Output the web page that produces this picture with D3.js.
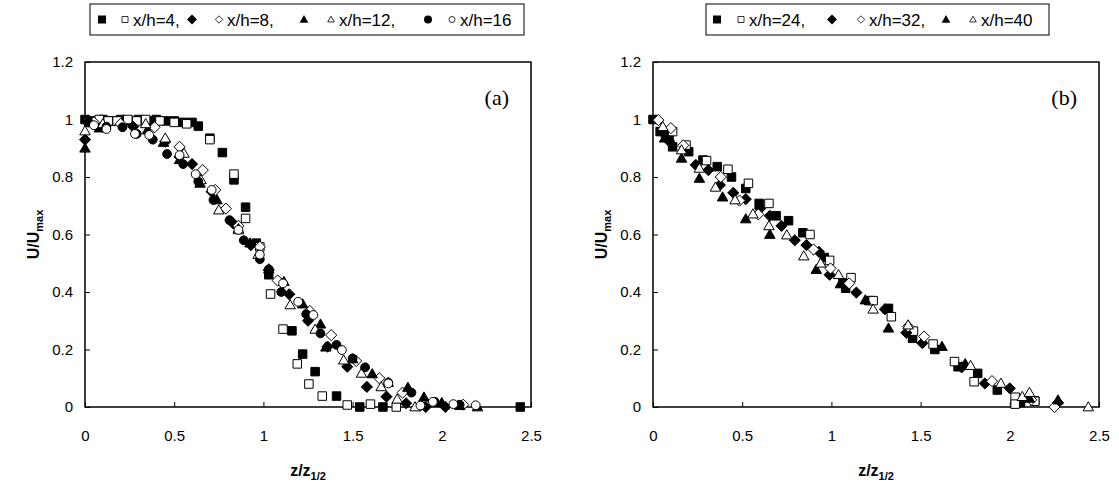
<!DOCTYPE html>
<html>
<head>
<meta charset="utf-8">
<script src="https://cdn.jsdelivr.net/npm/d3@7"></script>
<style>
  body { margin: 0; background: #fff; }
  svg { display: block; font-family: "Liberation Sans", Arial, sans-serif; }
</style>
</head>
<body>
<svg id="chart" width="1119" height="491"></svg>
<script>
// tick values shared by both panels
const xTicks = [0, 0.5, 1, 1.5, 2, 2.5];
const yTicks = [0, 0.2, 0.4, 0.6, 0.8, 1, 1.2];

// panel (a) : [z/z1/2, U/Umax]
const a4Filled = [[0,1.0],[0.05,0.995],[0.1,1.0],[0.15,0.995],[0.2,1.0],[0.25,0.995],[0.3,1.0],[0.35,0.995],[0.4,1.0],[0.45,0.995],[0.5,0.995],[0.55,0.99],[0.6,0.99],[0.635,0.977],[0.70,0.935],[0.77,0.885],[0.835,0.79],[0.90,0.695],[0.96,0.57],[1.03,0.46],[1.16,0.265],[1.22,0.184],[1.29,0.123],[1.41,0.038],[1.54,0],[1.67,0],[2.44,0]];
const a4Open = [[0.02,0.99],[0.08,1.0],[0.13,0.995],[0.18,0.995],[0.24,1.0],[0.29,0.995],[0.34,1.0],[0.42,0.995],[0.5,0.99],[0.57,0.985],[0.70,0.93],[0.835,0.81],[0.90,0.656],[0.98,0.557],[1.04,0.393],[1.11,0.271],[1.19,0.15],[1.255,0.08],[1.33,0.038],[1.47,0.007],[1.60,0.01],[1.745,0]];
const a8Filled = [[0,0.93],[0.1,0.975],[0.27,0.975],[0.45,0.923],[0.53,0.87],[0.6,0.845],[0.71,0.749],[0.83,0.639],[0.93,0.563],[1.03,0.477],[1.145,0.392],[1.25,0.30],[1.36,0.21],[1.47,0.14],[1.58,0.07],[1.69,0.036],[1.80,0.013],[1.91,0],[2.02,0]];
const a8Open = [[0.05,0.99],[0.2,0.985],[0.39,0.973],[0.53,0.905],[0.66,0.824],[0.73,0.755],[0.79,0.69],[0.86,0.63],[0.98,0.557],[1.08,0.44],[1.26,0.334],[1.38,0.25],[1.52,0.16],[1.65,0.10],[1.78,0.05],[1.88,0.005],[2.12,0.008]];
const a12Filled = [[0,0.90],[0.08,0.97],[0.35,0.963],[0.44,0.92],[0.53,0.86],[0.645,0.778],[0.74,0.72],[0.86,0.62],[0.925,0.57],[1.03,0.48],[1.115,0.436],[1.22,0.358],[1.32,0.288],[1.35,0.208],[1.50,0.167],[1.61,0.115],[1.70,0.085],[1.81,0.068],[1.90,0.034],[2.0,0.015],[2.1,0.005],[2.2,0]];
const a12Open = [[0,0.96],[0.1,0.985],[0.34,0.985],[0.45,0.935],[0.555,0.882],[0.65,0.79],[0.75,0.685],[0.86,0.616],[0.97,0.53],[1.15,0.355],[1.29,0.27],[1.45,0.163],[1.55,0.117],[1.66,0.07],[1.75,0.027],[1.85,0]];
const a16Filled = [[0.02,0.99],[0.12,0.975],[0.21,0.973],[0.29,0.95],[0.38,0.93],[0.46,0.88],[0.55,0.845],[0.635,0.784],[0.72,0.72],[0.81,0.65],[0.89,0.58],[0.98,0.514],[1.03,0.479],[1.10,0.40],[1.24,0.323],[1.32,0.256],[1.41,0.216],[1.50,0.169],[1.57,0.138],[1.70,0.085],[1.83,0.05],[1.96,0.018],[2.1,0.008]];
const a16Open = [[0.05,0.98],[0.12,0.967],[0.28,0.95],[0.36,0.946],[0.53,0.876],[0.62,0.81],[0.71,0.755],[0.86,0.616],[0.98,0.53],[1.11,0.43],[1.195,0.366],[1.28,0.32],[1.44,0.198],[1.70,0.082],[1.88,0.005],[1.95,0.018],[2.065,0.01],[2.19,0.006]];

// panel (b)
const b24Filled = [[0,1.0],[0.04,0.958],[0.07,0.95],[0.09,0.935],[0.11,0.905],[0.20,0.888],[0.28,0.859],[0.36,0.836],[0.44,0.80],[0.52,0.76],[0.595,0.708],[0.69,0.665],[0.76,0.648],[0.84,0.606],[0.96,0.52],[1.065,0.432],[1.08,0.413],[1.21,0.37],[1.32,0.343],[1.455,0.239],[1.58,0.2],[1.71,0.14],[1.82,0.117],[1.93,0.059],[2.06,0.015],[2.14,0.021]];
const b24Open = [[0.11,0.958],[0.185,0.911],[0.30,0.857],[0.42,0.827],[0.535,0.778],[0.65,0.708],[0.88,0.60],[0.99,0.51],[1.11,0.45],[1.234,0.37],[1.336,0.314],[1.46,0.264],[1.57,0.219],[1.69,0.158],[1.80,0.088],[2.03,0.034],[2.03,0.01],[2.14,0.02]];
const b32Filled = [[0.09,0.925],[0.24,0.842],[0.31,0.824],[0.375,0.772],[0.45,0.745],[0.52,0.723],[0.60,0.69],[0.655,0.665],[0.72,0.63],[0.795,0.58],[0.86,0.563],[0.93,0.54],[0.99,0.46],[1.14,0.398],[1.30,0.34],[1.42,0.258],[1.51,0.222],[1.73,0.138],[1.86,0.082],[2.0,0.065],[2.27,0.015]];
const b32Open = [[0.03,0.998],[0.10,0.97],[0.17,0.91],[0.38,0.80],[0.485,0.718],[0.59,0.67],[0.90,0.548],[0.995,0.482],[1.10,0.43],[1.43,0.28],[1.52,0.245],[1.90,0.09],[2.12,0.025],[2.25,0.0]];
const b40Filled = [[0.065,0.935],[0.16,0.865],[0.26,0.795],[0.39,0.73],[0.52,0.654],[0.655,0.60],[0.915,0.478],[1.05,0.428],[1.19,0.372],[1.32,0.274],[1.62,0.21],[1.75,0.15],[2.11,0.03],[2.27,0.024]];
const b40Open = [[0.055,0.975],[0.16,0.894],[0.26,0.83],[0.35,0.764],[0.46,0.72],[0.56,0.671],[0.65,0.63],[0.75,0.598],[0.845,0.525],[0.94,0.50],[1.04,0.46],[1.234,0.34],[1.43,0.285],[1.78,0.144],[1.95,0.082],[2.07,0.036],[2.11,0.05],[2.44,0.0]];

const aLabels = ["x/h=4,", "x/h=8,", "x/h=12,", "x/h=16"];
const bLabels = ["x/h=24,", "x/h=32,", "x/h=40"];

const svg = d3.select("#chart");

// marker path, centred on 0,0
function markerPath(shape, s) {
    const p = d3.path();
    if (shape == "square") {
        p.rect(-s / 2, -s / 2, s, s);
    } else if (shape == "diamond") {
        const h = s * 0.62;
        p.moveTo(0, -h); p.lineTo(h, 0); p.lineTo(0, h); p.lineTo(-h, 0); p.closePath();
    } else if (shape == "triangle") {
        const h = s * 0.9;
        p.moveTo(0, -h * 0.62); p.lineTo(s * 0.55, h * 0.45); p.lineTo(-s * 0.55, h * 0.45); p.closePath();
    } else {
        p.arc(0, 0, s / 2, 0, 2 * Math.PI);
    }
    return p.toString();
}

function drawPanel(cfg) {
    const x = d3.scaleLinear().domain([0, 2.5]).range([cfg.left, cfg.left + 446]);
    const y = d3.scaleLinear().domain([0, 1.2]).range([407, 62]);
    const g = svg.append("g");

    // ticks inside the frame
    g.append("g")
        .attr("transform", "translate(0,407)")
        .call(d3.axisBottom(x).tickValues(xTicks).tickSizeInner(-5).tickSizeOuter(0).tickFormat(d3.format("")))
        .call(ax => ax.select(".domain").remove())
        .call(ax => ax.selectAll("text").attr("dy", 0).attr("y", 34).style("font-size", "15px").attr("fill", "#000"));
    g.append("g")
        .attr("transform", `translate(${cfg.left},0)`)
        .call(d3.axisLeft(y).tickValues(yTicks).tickSizeInner(-5).tickSizeOuter(0).tickFormat(d3.format("")))
        .call(ax => ax.select(".domain").remove())
        .call(ax => ax.selectAll("text").attr("x", -12).style("font-size", "15px").attr("fill", "#000"));

    g.append("rect")
        .attr("x", x(0)).attr("y", y(1.2))
        .attr("width", x(2.5) - x(0)).attr("height", y(0) - y(1.2))
        .attr("fill", "none").attr("stroke", "#000").attr("stroke-width", 1.5);

    cfg.series.forEach(s => {
        g.append("g").selectAll("path")
            .data(s.data)
            .join("path")
            .attr("transform", d => `translate(${x(d[0])},${y(d[1])})`)
            .attr("d", markerPath(s.shape, s.size))
            .attr("fill", s.filled ? "#000" : "#fff")
            .attr("stroke", "#000")
            .attr("stroke-width", 1);
    });

    g.append("text")
        .attr("x", x(2.5) - 22).attr("y", y(1.05))
        .attr("text-anchor", "end")
        .style("font-family", "'Liberation Serif', 'Times New Roman', serif")
        .style("font-size", "22px")
        .text(cfg.tag);

    // axis titles
    const xt = g.append("text")
        .attr("x", (x(0) + x(2.5)) / 2).attr("y", 476)
        .attr("text-anchor", "middle")
        .style("font-weight", "bold").style("font-size", "16px");
    xt.append("tspan").text("z/z");
    xt.append("tspan").attr("dy", 4).style("font-size", "11px").text("1/2");

    const yt = g.append("text")
        .attr("transform", `translate(${cfg.left - 46},${y(0.6)}) rotate(-90)`)
        .attr("text-anchor", "middle")
        .style("font-weight", "bold").style("font-size", "16px");
    yt.append("tspan").text("U/U");
    yt.append("tspan").attr("dy", 4).style("font-size", "11px").text("max");

    // legend box
    const lg = g.append("g");
    lg.append("rect")
        .attr("x", cfg.legend.x).attr("y", 4)
        .attr("width", cfg.legend.w).attr("height", 31)
        .attr("fill", "#fff").attr("stroke", "#000").attr("stroke-width", 1);
    cfg.labels.forEach((lab, i) => {
        const filled = cfg.series[i * 2], open = cfg.series[i * 2 + 1];
        const fx = cfg.legend.x + cfg.legend.pos[i][0], ox = cfg.legend.x + cfg.legend.pos[i][1];
        lg.append("path").attr("transform", `translate(${fx},19.5)`)
            .attr("d", markerPath(filled.shape, 8)).attr("fill", "#000");
        lg.append("path").attr("transform", `translate(${ox},19.5)`)
            .attr("d", markerPath(open.shape, 6)).attr("fill", "#fff").attr("stroke", "#000").attr("stroke-width", 0.8);
        lg.append("text").attr("x", ox + 8).attr("y", 26)
            .style("font-size", "17px").text(lab);
    });
}

const shapes = ["square", "diamond", "triangle", "circle"];
const sizes = { square: 8.5, diamond: 9, triangle: 9.5, circle: 8.8 };
function build(list) {
    return list.map((data, i) => {
        const shape = shapes[Math.floor(i / 2)];
        return { data: data, shape: shape, size: sizes[shape], filled: i % 2 == 0 };
    });
}

drawPanel({
    left: 85, tag: "(a)", labels: aLabels,
    legend: { x: 90, w: 434, pos: [[12, 35], [102, 129], [214, 241], [338, 362]] },
    series: build([a4Filled, a4Open, a8Filled, a8Open, a12Filled, a12Open, a16Filled, a16Open])
});
drawPanel({
    left: 653, tag: "(b)", labels: bLabels,
    legend: { x: 706, w: 343, pos: [[11, 35], [126, 155], [240, 267]] },
    series: build([b24Filled, b24Open, b32Filled, b32Open, b40Filled, b40Open])
});
</script>
</body>
</html>
